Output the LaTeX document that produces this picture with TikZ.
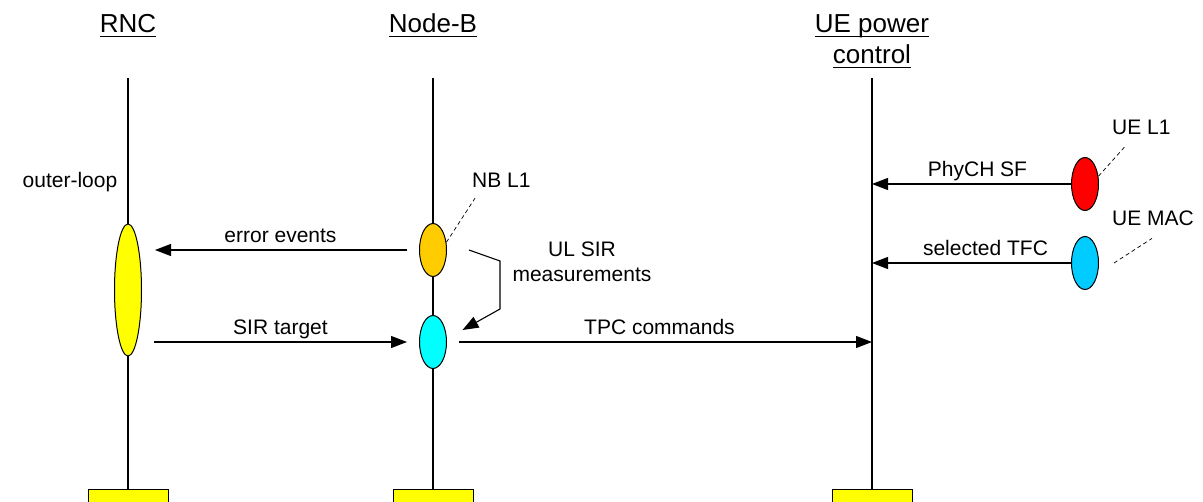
\documentclass[tikz,border=0pt]{standalone}
\usepackage{fontspec}
\setmainfont{Liberation Sans}
\usetikzlibrary{positioning}
\usetikzlibrary{arrows.meta}
\usetikzlibrary{shapes.geometric}

\definecolor{rncyellow}{HTML}{FFFF00}
\definecolor{nborange}{HTML}{FFCC00}
\definecolor{nbcyan}{HTML}{00FFFF}
\definecolor{uered}{HTML}{FF0000}
\definecolor{ueblue}{HTML}{00CCFF}

% underlined header text, rule a few points under the baseline
\newsavebox{\hdrbox}
\newcommand{\hdrul}[1]{\sbox{\hdrbox}{#1}\rlap{\rule[-4.2pt]{\wd\hdrbox}{1.2pt}}\usebox{\hdrbox}}

\tikzset{x=1pt, y=-1pt,
  every node/.style={font=\fontsize{21}{25}\selectfont, inner sep=0pt},
  header/.style={font=\fontsize{26}{31}\selectfont, align=center},
  entity/.style={ % the small ellipses sitting on a lifeline
    ellipse, draw, line width=1pt,
    minimum width=27pt, minimum height=53pt},
  endbox/.style={rectangle, draw, fill=rncyellow, line width=1pt,
    minimum width=80pt, minimum height=24pt, anchor=north},
  lifeline/.style={line width=1.1pt},
  msg/.style={line width=1.1pt, -{Triangle[length=16pt,width=12pt]}},
  msglabel/.style={above=7pt, text depth=0pt},
  leader/.style={dash pattern=on 4pt off 3pt, line width=0.7pt}
}

\begin{document}
\begin{tikzpicture}
  \clip (0,0) rectangle (1203,502);

  % column headers
  \node [header, anchor=base] (rnc) at (128,33) {\hdrul{RNC}};
  \node [header, anchor=base] (nodeb) at (433,33) {\hdrul{Node-B}};
  \node [header, anchor=base] (uepc) at (872,64) {\hdrul{UE power}\\\hdrul{control}};

  % lifelines, each one ends in a box
  \coordinate (rnctop) at (128,78);
  \coordinate (nodebtop) at (433,78);
  \coordinate (uetop) at (872,78);
  \node [endbox] (rncend) at (128,489) {};
  \node [endbox] (nodebend) at (433,489) {};
  \node [endbox] (ueend) at (872,489) {};
  \draw [lifeline] (rnctop) -- (rncend.north);
  \draw [lifeline] (nodebtop) -- (nodebend.north);
  \draw [lifeline] (uetop) -- (ueend.north);

  % entities
  \node [entity, fill=rncyellow, minimum height=132pt] (outer) at (128,290) {};
  \node [entity, fill=nborange] (nbl1) at (433,250) {};
  \node [entity, fill=nbcyan] (nbtpc) at (433,342) {};
  \node [entity, fill=uered] (uel1) at (1085,184) {};
  \node [entity, fill=ueblue] (uemac) at (1085,263) {};

  % names of the entities
  \node [anchor=base] (outerlbl) at (70,188) {outer-loop};
  \node [anchor=base west] (nbl1lbl) at (472,188) {NB L1};
  \node [anchor=base west] (uel1lbl) at (1112,135) {UE L1};
  \node [anchor=base west] (uemaclbl) at (1112,226) {UE MAC};

  \draw [leader] (nbl1.30) -- ([shift={(3,10)}]nbl1lbl.south west);
  \draw [leader] (uel1.30) -- ([shift={(14,10)}]uel1lbl.south west);
  \draw [leader] ([shift={(15,0)}]uemac.east) -- ([shift={(40,12)}]uemaclbl.south west);

  % messages
  \draw [msg, shorten <=12pt, shorten >=13pt] (nbl1) -- (outer.east |- nbl1)
    node [msglabel, midway] {error events};
  \draw [msg, shorten <=12pt, shorten >=12pt] (outer.east |- nbtpc) -- (nbtpc)
    node [msglabel, midway] {SIR target};
  \draw [msg, shorten <=12pt] (nbtpc) -- (uetop |- nbtpc)
    node [msglabel, midway] {TPC commands};
  \draw [msg] (uel1) -- (uetop |- uel1)
    node [msglabel, midway, xshift=6pt] {PhyCH SF};
  \draw [msg] (uemac) -- (uetop |- uemac)
    node [msglabel, midway, xshift=14pt] {selected TFC};

  % measurement fed back into the TPC entity
  \draw [msg] ([shift={(22,0)}]nbl1.east) -- ++(31,11) -- ++(0,48)
    -- ([shift={(15.5,-12)}]nbtpc.east);
  \node [align=center] (ulsir) at (582,262) {UL SIR\\measurements};
\end{tikzpicture}
\end{document}
